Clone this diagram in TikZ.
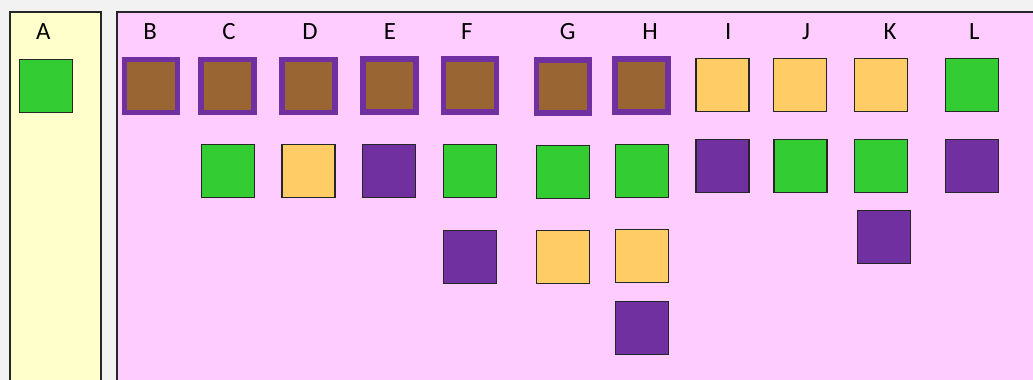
\documentclass[tikz,border=0pt]{standalone}
\usepackage{fontspec}
\setmainfont{Carlito}
\usetikzlibrary{positioning}
\definecolor{bggrey}{RGB}{242,242,242}
\definecolor{panelyellow}{RGB}{255,255,204}
\definecolor{panelpink}{RGB}{255,204,255}
\definecolor{boxgreen}{RGB}{51,204,51}
\definecolor{boxorange}{RGB}{255,204,102}
\definecolor{boxpurple}{RGB}{112,48,160}
\definecolor{boxbrown}{RGB}{153,102,51}

\begin{document}
\begin{tikzpicture}[
    x=0.5pt, y=-0.5pt,
    panel/.style={draw=black!85, line width=1pt},
    tile/.style={rectangle, draw=black!85, line width=0.6pt, minimum size=26.5pt, inner sep=0pt},
    gtile/.style={tile, fill=boxgreen},
    otile/.style={tile, fill=boxorange},
    ptile/.style={tile, fill=boxpurple},
    btile/.style={tile, fill=boxbrown, draw=boxpurple, line width=2.75pt},
    lbl/.style={anchor=base, font=\fontsize{12.4}{14}\selectfont}
]
    \useasboundingbox (0,0) rectangle (1033,380);
    \clip (0,0) rectangle (1033,380);
    \fill[bggrey] (0,0) rectangle (1033,380);

    % panels
    \draw[panel, fill=panelyellow] (9.5,11.7) rectangle (100.7,390);
    \draw[panel, fill=panelpink] (116.7,11.7) rectangle (1045,390);

    % column letters
    \node (la) [lbl] at (43.3,39.3) {A};
    \node (lb) [lbl] at (150,39.3) {B};
    \node (lc) [lbl] at (229,39.3) {C};
    \node (ld) [lbl] at (310,39.3) {D};
    \node (le) [lbl] at (390,39.3) {E};
    \node (lf) [lbl] at (466.7,39.3) {F};
    \node (lg) [lbl] at (567.7,39.3) {G};
    \node (lh) [lbl] at (650,39.3) {H};
    \node (li) [lbl] at (728.3,39.3) {I};
    \node (lj) [lbl] at (806,39.3) {J};
    \node (lk) [lbl] at (890,39.3) {K};
    \node (ll) [lbl] at (974.3,39.3) {L};

    % A
    \node (a1) [gtile] at (46,86) {};

    % top row
    \node (b1) [btile] at (151,86) {};
    \node (c1) [btile] at (227.7,86) {};
    \node (d1) [btile] at (308.5,86) {};
    \node (e1) [btile] at (389.4,85.5) {};
    \node (f1) [btile] at (470,85.5) {};
    \node (g1) [btile] at (562.8,86.3) {};
    \node (h1) [btile] at (641.7,85.5) {};
    \node (i1) [otile] at (722.5,85.3) {};
    \node (j1) [otile] at (800.3,85.3) {};
    \node (k1) [otile] at (881.2,85.3) {};
    \node (l1) [gtile] at (972,85.3) {};

    % second row
    \node (c2) [gtile] at (227.7,171.3) {};
    \node (d2) [otile] at (308.5,171.3) {};
    \node (e2) [ptile] at (389.3,171) {};
    \node (f2) [gtile] at (470,171) {};
    \node (g2) [gtile] at (562.8,171.7) {};
    \node (h2) [gtile] at (641.8,171) {};
    \node (i2) [ptile] at (722.5,166) {};
    \node (j2) [gtile] at (800.5,166) {};
    \node (k2) [gtile] at (881.3,166) {};
    \node (l2) [ptile] at (972,166) {};

    % lower rows
    \node (f3) [ptile] at (470,257) {};
    \node (g3) [otile] at (562.8,257) {};
    \node (h3) [otile] at (641.7,256.3) {};
    \node (k3) [ptile] at (884,237) {};
    \node (h4) [ptile] at (641.7,328) {};
\end{tikzpicture}
\end{document}
